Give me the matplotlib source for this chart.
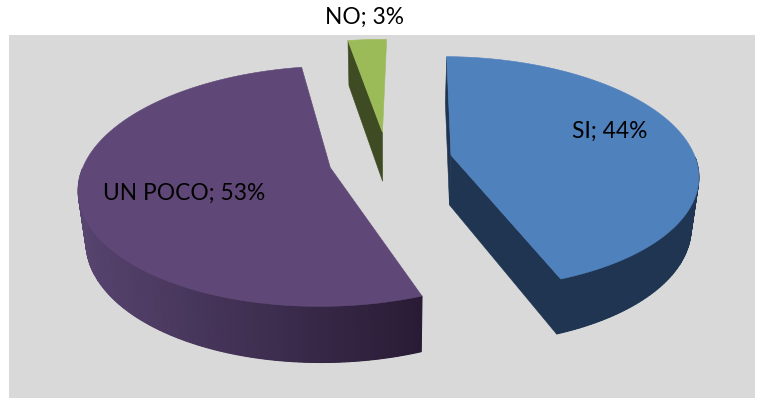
#!/usr/bin/env python3
# -*- coding: utf-8 -*-
"""Exploded 3D pie drawn by hand: matplotlib has no perspective pie."""
import numpy as np
import matplotlib
matplotlib.use("Agg")
import matplotlib.pyplot as plt
from matplotlib.patches import Rectangle

labels = ["SI", "UN POCO", "NO"]
values = [44, 53, 3]
top_colors = ["#4f81bd", "#5f4877", "#9bbb59"]
side_left = ["#1f3551", "#57446f", "#3f4b23"]
side_right = ["#1f3551", "#291b35", "#3f4b23"]
label_pos = [(610, 131), (184, 193), (365, 17)]
nudge_x = [-1, -2, -5]
# which cut faces of each slice can be seen (0 = first edge, -1 = last edge)
cut_faces = [(0, -1), (), (0,)]

# projection settings, in pixels
CX, CY = 392, 160
RX, RY = 245, 115
PERSP = 0.153
EXPLODE = 0.25
DEPTH = 50
BOTTOM_SCALE = 0.975
START = 1.0


def project(x, y, bottom=False):
    s = 1.0 / (1.0 + PERSP * y)
    px = RX * x * s
    py = -RY * y * s
    if bottom:
        return CX + px * BOTTOM_SCALE, CY + py * BOTTOM_SCALE + DEPTH * s
    return CX + px, CY + py


def mix(c1, c2, t):
    a = np.array(matplotlib.colors.to_rgb(c1))
    b = np.array(matplotlib.colors.to_rgb(c2))
    return tuple(a + (b - a) * t)


def side_color_at(x, left, right, tx):
    t = (x - tx.min()) / max(tx.max() - tx.min(), 1)
    return mix(left, right, t)


def draw_slice(ax, a0, a1, top, left, right, dx, faces):
    mid = np.radians((a0 + a1) / 2)
    ox, oy = EXPLODE * np.sin(mid), EXPLODE * np.cos(mid)
    ang = np.radians(np.arange(a0, a1 + 0.5, 1.0))
    ang[-1] = np.radians(a1)
    xs = ox + np.sin(ang)
    ys = oy + np.cos(ang)
    tx, ty = project(xs, ys)
    bx, by = project(xs, ys, bottom=True)
    ax0, ay0 = project(ox, oy)
    bx0, by0 = project(ox, oy, bottom=True)
    tx, bx, ax0, bx0 = tx + dx, bx + dx, ax0 + dx, bx0 + dx

    # inner cut faces first, the outer wall over them
    for i in faces:
        fx = [ax0, tx[i], bx[i], bx0]
        fy = [ay0, ty[i], by[i], by0]
        col = side_color_at(tx[i], left, right, tx)
        ax.fill(fx, fy, color=col, lw=0.4, zorder=2)

    # only the front half of the wall shows, in thin strips for the shading
    front = np.cos(ang) < 0
    if front.any():
        fx = np.r_[tx[front], bx[front][::-1]]
        fy = np.r_[ty[front], by[front][::-1]]
        ax.fill(fx, fy, color=mix(left, right, 0.5), lw=0, zorder=2.5)
    for i in range(len(ang) - 1):
        if not (front[i] and front[i + 1]):
            continue
        qx = [tx[i], tx[i + 1], bx[i + 1], bx[i]]
        qy = [ty[i], ty[i + 1], by[i + 1], by[i]]
        col = side_color_at((tx[i] + tx[i + 1]) / 2, left, right, tx)
        ax.fill(qx, qy, color=col, lw=0.8, zorder=3)

    ax.fill(np.r_[ax0, tx], np.r_[ay0, ty], color=top, lw=0.4, zorder=4)


fig = plt.figure(figsize=(7.65, 3.98), dpi=100)
ax = fig.add_axes([0, 0, 1, 1])
ax.set_xlim(0, 765)
ax.set_ylim(398, 0)
ax.axis("off")
ax.add_patch(Rectangle((9, 35), 746, 363, color="#d9d9d9", lw=0, zorder=0))

angle = START
for k, val in enumerate(values):
    sweep = val / sum(values) * 360
    draw_slice(ax, angle, angle + sweep, top_colors[k], side_left[k], side_right[k],
               nudge_x[k], cut_faces[k])
    angle += sweep

for lab, val, (lx, ly) in zip(labels, values, label_pos):
    ax.text(lx, ly, f"{lab}; {val}%", family="Lato", fontsize=16.4, color="black",
            ha="center", va="center", zorder=6)

fig.savefig("out.png", dpi=100)
